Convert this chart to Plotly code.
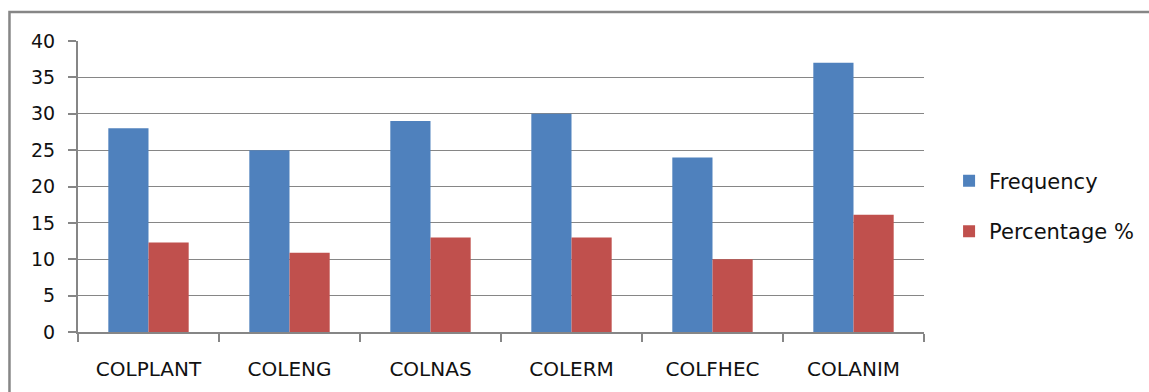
import plotly.graph_objects as go

categories = ["COLPLANT", "COLENG", "COLNAS", "COLERM", "COLFHEC", "COLANIM"]
frequency = [28, 25, 29, 30, 24, 37]
percentage = [12.3, 10.9, 13.0, 13.0, 10.0, 16.1]
y_ticks = [0, 5, 10, 15, 20, 25, 30, 35, 40]

FONT = "'DejaVu Sans', sans-serif"
GRAY = "#868686"

fig = go.Figure()
fig.add_trace(go.Bar(x=categories, y=frequency, name="Frequency",
                     marker=dict(color="#4F81BD", line=dict(width=0)),
                     legendgroup="a"))
fig.add_trace(go.Bar(x=categories, y=percentage, name="Percentage %",
                     marker=dict(color="#C0504D", line=dict(width=0)),
                     legendgroup="b"))

fig.update_layout(
    width=1149, height=392,
    margin=dict(l=78, r=225, t=41, b=60, autoexpand=False),
    paper_bgcolor="white", plot_bgcolor="white",
    barmode="group", bargap=0.43, bargroupgap=0,
    font=dict(family=FONT, size=19, color="#111111"),
    showlegend=True,
    legend=dict(xref="container", yref="container",
                x=0.826, xanchor="left", y=0.474, yanchor="middle",
                font=dict(family=FONT, size=21, color="#111111"),
                tracegroupgap=20, bgcolor="rgba(0,0,0,0)"),
    xaxis=dict(showline=True, linecolor=GRAY, linewidth=2,
               ticks="outside", tickson="boundaries", ticklen=8,
               tickcolor=GRAY, tickwidth=2, ticklabelstandoff=18,
               tickfont=dict(family=FONT, size=20, color="#111111"),
               showgrid=False),
    yaxis=dict(range=[0, 40], tickvals=y_ticks, showline=True,
               linecolor=GRAY, linewidth=2, ticks="outside", ticklen=8,
               tickcolor=GRAY, tickwidth=2, showgrid=True, gridcolor=GRAY,
               gridwidth=1, zeroline=False, ticklabelstandoff=9,
               tickfont=dict(family=FONT, size=19, color="#111111")),
    shapes=[dict(type="rect", xref="paper", yref="paper",
                 x0=-0.081, x1=1.4, y0=-0.5, y1=1.1,
                 line=dict(color=GRAY, width=2.5), fillcolor="rgba(0,0,0,0)",
                 layer="below")],
)

fig.write_html("out.html")
